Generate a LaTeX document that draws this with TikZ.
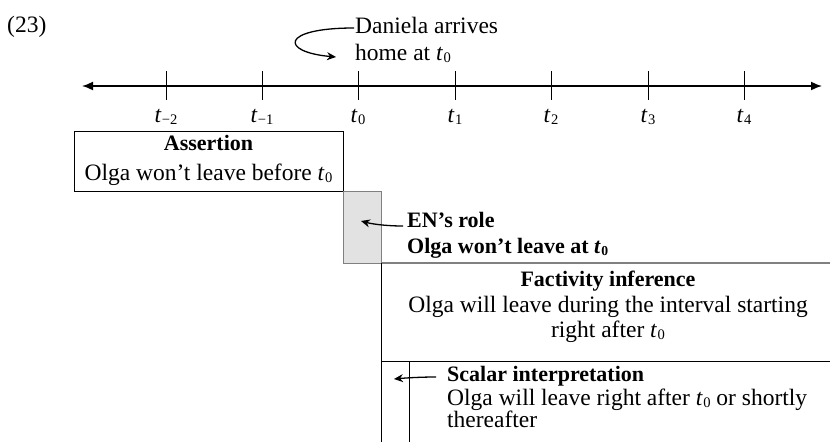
\documentclass[tikz,border=0pt]{standalone}
\usepackage{fontspec}
\setmainfont{Liberation Serif}
\usetikzlibrary{arrows.meta}
\definecolor{rolefill}{HTML}{E2E2E2}
\definecolor{roleedge}{HTML}{808080}
% italic time variable with a small upright subscript
\newcommand\tvar[1]{\textit{t}\kern0.02em\raisebox{-0.1em}{\scalebox{0.62}{#1}}}
\begin{document}
\begin{tikzpicture}[x=1pt,y=-1pt,
  txt/.style={inner sep=0pt,font=\fontsize{23.5}{27}\selectfont},
  hdr/.style={txt,font=\fontsize{22}{26}\selectfont\bfseries},
  tick/.style={line width=0.9pt},
  frame/.style={line width=0.9pt},
  pointer/.style={line width=1.3pt,-{Stealth[length=9pt,width=8pt]}}]
\useasboundingbox (0,0) rectangle (830,442);

% example number
\node[txt,anchor=base west] (num) at (7,32) {(23)};

% time axis
\coordinate (axL) at (82,86);
\coordinate (axR) at (822,86);
\draw[line width=1.6pt,{Latex[length=11pt,width=9pt]}-{Latex[length=11pt,width=9pt]}] (axL) -- (axR);
\foreach \x/\lab/\nm in {166/{−2}/m2,262/{−1}/m1,358/0/z,455/1/p1,551/2/p2,648/3/p3,744/4/p4}{
  \draw[tick] (\x,71) -- (\x,100);
  \node[txt,anchor=base] (t\nm) at (\x,122) {\tvar{\lab}};
}

% event annotation
\node[txt,anchor=base west] (dan1) at (355,33) {Daniela arrives};
\node[txt,anchor=base west] (dan2) at (355,60) {home at \tvar{0}};
\coordinate (danS) at (354,28);
\coordinate (danE) at (336,57);
\draw[pointer] (danS) .. controls (280,28) and (280,52) .. (danE);

% assertion box
\draw[frame] (74,131) rectangle (343,191);
\node[hdr,anchor=base] (as1) at (208.5,150.7) {Assertion};
\node[txt,anchor=base] (as2) at (208.5,180) {Olga won’t leave before \tvar{0}};

% contribution of EN
\draw[line width=1pt,draw=roleedge,fill=rolefill] (343,191) rectangle (381,263);
\draw[line width=1.1pt,draw=roleedge] (381,263) -- (830,263);
\node[hdr,anchor=base west] (en1) at (407,227) {EN’s role};
\node[hdr,anchor=base west] (en2) at (407,253) {Olga won’t leave at \tvar{0}};
\coordinate (enS) at (403,226);
\coordinate (enE) at (361,221);
\draw[pointer] (enS) .. controls (386,226) and (372,224) .. (enE);

% factivity inference
\draw[frame] (381,263) -- (381,442);
\draw[frame] (381,361) -- (830,361);
\node[hdr,anchor=base] (fa1) at (608,286) {Factivity inference};
\node[txt,anchor=base] (fa2) at (608,312) {Olga will leave during the interval starting};
\node[txt,anchor=base] (fa3) at (608,337) {right after \tvar{0}};

% scalar interpretation
\draw[frame] (409,361) -- (409,442);
\node[hdr,anchor=base west] (sc1) at (447,381) {Scalar interpretation};
\node[txt,anchor=base west] (sc2) at (447,405) {Olga will leave right after \tvar{0} or shortly};
\node[txt,anchor=base west] (sc3) at (447,427) {thereafter};
\coordinate (scS) at (436,377);
\coordinate (scE) at (394,379);
\draw[pointer] (scS) .. controls (420,377) and (405,378) .. (scE);
\end{tikzpicture}
\end{document}
